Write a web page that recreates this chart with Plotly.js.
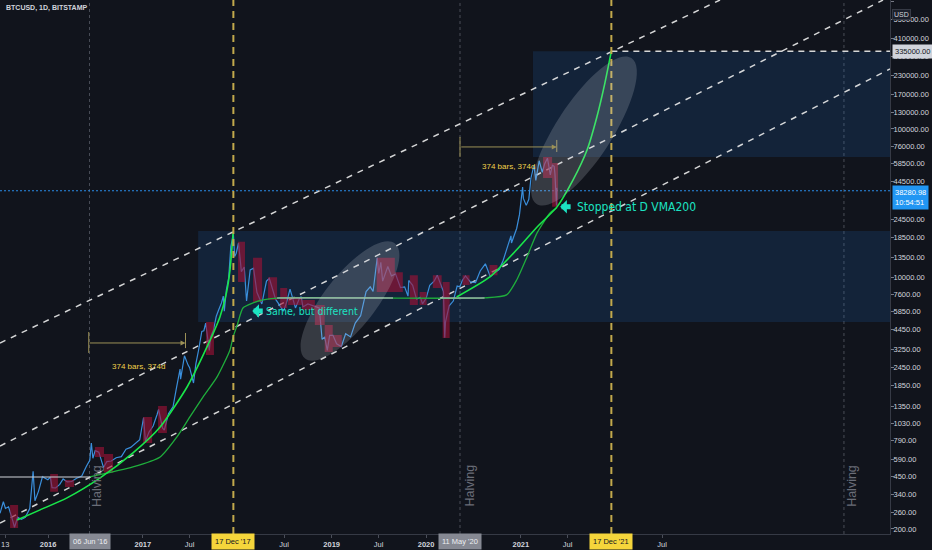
<!DOCTYPE html>
<html><head><meta charset="utf-8">
<script src="https://cdn.plot.ly/plotly-3.0.1.min.js"></script>
<style>html,body{margin:0;padding:0;background:#11141c;}#chart{width:932px;height:550px;}</style>
</head><body><div id="chart"></div>
<script>
// ---- price series (BTCUSD daily) ----
const priceDates = ['2015-06-29','2015-07-12','2015-07-20','2015-08-01','2015-08-18','2015-08-24','2015-09-05','2015-09-20','2015-10-05','2015-10-22','2015-11-04','2015-11-11','2015-11-25','2015-12-10','2015-12-31',
'2016-01-10','2016-01-16','2016-01-30','2016-02-15','2016-02-28','2016-03-15','2016-04-01','2016-04-20','2016-05-10','2016-05-28','2016-06-10','2016-06-16','2016-06-22','2016-07-01','2016-07-15','2016-08-02','2016-08-15','2016-09-01','2016-09-20','2016-10-10','2016-10-28','2016-11-15','2016-12-01','2016-12-20',
'2017-01-04','2017-01-11','2017-01-25','2017-02-10','2017-02-25','2017-03-03','2017-03-18','2017-03-25','2017-04-10','2017-04-28','2017-05-10','2017-05-25','2017-05-27','2017-06-11','2017-06-25','2017-07-01','2017-07-16','2017-07-25','2017-08-05','2017-08-17','2017-08-25','2017-09-01','2017-09-15','2017-09-20','2017-10-01','2017-10-12','2017-10-21','2017-11-01','2017-11-08','2017-11-12','2017-11-20','2017-11-29','2017-12-07','2017-12-17','2017-12-22','2017-12-28',
'2018-01-06','2018-01-17','2018-01-28','2018-02-06','2018-02-20','2018-03-05','2018-03-18','2018-04-06','2018-04-24','2018-05-05','2018-05-29','2018-06-15','2018-06-29','2018-07-10','2018-07-24','2018-08-14','2018-08-28','2018-09-05','2018-09-12','2018-10-01','2018-10-15','2018-11-01','2018-11-14','2018-11-25','2018-12-05','2018-12-15','2018-12-24',
'2019-01-06','2019-01-20','2019-02-07','2019-02-24','2019-03-15','2019-04-02','2019-04-23','2019-05-14','2019-05-30','2019-06-10','2019-06-26','2019-07-02','2019-07-10','2019-07-17','2019-08-06','2019-08-20','2019-09-05','2019-09-24','2019-10-10','2019-10-23','2019-10-26','2019-11-10','2019-11-25','2019-12-10','2019-12-18',
'2020-01-01','2020-01-15','2020-02-01','2020-02-13','2020-02-27','2020-03-08','2020-03-13','2020-03-16','2020-03-30','2020-04-15','2020-04-30','2020-05-10','2020-05-20','2020-06-01','2020-06-20','2020-07-10','2020-07-28','2020-08-17','2020-09-05','2020-09-25','2020-10-10','2020-10-25','2020-11-07','2020-11-24','2020-11-26','2020-12-16','2020-12-27',
'2021-01-02','2021-01-08','2021-01-11','2021-01-22','2021-02-01','2021-02-09','2021-02-21','2021-02-28','2021-03-13','2021-03-25','2021-04-03','2021-04-14','2021-04-25','2021-05-03','2021-05-10','2021-05-13','2021-05-19','2021-05-20','2021-05-21'];
const priceValues = [255,305,275,282,225,205,240,232,240,275,490,310,360,450,430,
448,380,378,400,435,415,418,440,455,530,580,760,600,675,660,520,570,575,605,615,690,710,750,800,
1130,780,900,990,1180,1280,960,930,1200,1340,1750,2400,2050,2950,2550,2450,1930,2600,3250,4300,4350,4900,3200,3950,4400,5450,6000,6700,7450,5900,8200,9900,16000,19500,13800,14500,
17000,10900,11700,6900,11200,11500,7900,6600,9400,9800,7100,6400,5900,6700,8300,6200,7100,7400,6300,6600,6450,6350,6200,3800,3950,3200,4050,
4050,3550,3400,4150,3950,4900,5500,8000,8600,8000,13500,10600,12600,9400,11800,10200,10500,8500,8600,7450,9500,8800,7100,7300,6600,
7200,8800,9400,10300,8800,8000,3900,5000,6400,6900,8700,8600,9500,10200,9300,9200,11000,12300,10100,10700,11300,13000,15500,19000,17000,21300,26500,
32000,40500,34000,30500,33500,46500,57000,45000,61000,51000,58000,63500,49000,57000,56000,49500,30500,40000,38280.98];
const lastPrice = 38280.98;

// ---- red (down-leg) highlight boxes ----
const redStart = ['2015-08-07','2016-01-09','2016-03-06','2016-06-30','2016-08-04','2017-01-02','2017-03-01','2017-09-02','2018-01-04','2018-03-03','2018-04-30','2018-06-16','2018-07-16','2018-09-08','2018-10-28','2018-12-05','2019-01-05','2019-06-24','2019-09-02','2019-10-30','2019-12-07','2020-01-27','2020-03-05','2020-05-21','2020-09-02','2021-03-28','2021-05-02'];
const redEnd   = ['2015-09-07','2016-02-08','2016-04-10','2016-08-04','2016-09-08','2017-02-06','2017-04-04','2017-10-03','2018-01-31','2018-04-07','2018-06-04','2018-07-13','2018-09-08','2018-10-28','2018-12-05','2019-01-05','2019-02-09','2019-09-02','2019-10-03','2019-11-30','2020-01-03','2020-03-01','2020-04-01','2020-06-17','2020-10-03','2021-05-02','2021-05-25'];
const redHigh  = [290,470,428,715,641,1140,1352,4990,17300,13500,10000,8460,7350,7000,6490,4760,4070,13500,10800,10300,7940,10300,9290,10300,12100,64700,59000];
const redLow   = [203,356,384,612,478,760,889,2985,9290,6800,7000,6200,6490,6010,4760,3130,3380,7940,7940,6490,6490,8460,3890,8860,10300,46700,29800];

// ---- blue zones ----
const blueStart = ['2017-08-03','2021-02-17'];
const blueEnd   = ['2024-11-28','2024-11-28'];
const blueLow   = [4990, 64700];
const blueHigh  = [20500, 335000];

// ---- dashed channel lines (end points) ----
const chanStartDate = ['2015-06-29','2015-06-29','2015-06-29'];
const chanStartVal  = [3597, 726, 219];
const chanEndDate   = ['2023-02-10','2024-11-01','2024-11-28'];
const chanEndVal    = [741000, 741000, 254000];

// ---- bright green curve (two legs) ----
const curveADates = ['2015-09-03','2015-12-01','2016-03-14','2016-07-20','2016-11-24','2017-03-09','2017-06-21','2017-09-06','2017-10-26','2017-11-20','2017-12-04','2017-12-16',null,
'2020-04-28','2020-09-02','2020-12-16','2021-03-05','2021-05-21','2021-07-22','2021-09-14','2021-10-22','2021-11-22','2021-12-17'];
const curveAValues = [230,269,324,442,652,975,1815,3381,5387,7800,11200,19900,null,
7350,10000,15300,21800,29800,45300,72100,120500,204000,335000];

// ---- darker green VMA curve ----
const curveBDates = ['2016-06-11','2016-11-24','2017-03-09','2017-05-13','2017-07-02','2017-08-22','2017-10-15','2017-12-04','2017-12-16','2018-01-01','2018-01-23','2018-03-03','2018-04-11','2018-06-16','2020-08-14','2020-11-07','2020-12-16','2021-01-25','2021-03-05','2021-04-24','2021-05-21'];
const curveBValues = [449,524,612,836,1140,1555,2122,3228,3948,4756,6196,6700,7016,7244,7244,7590,9570,13700,19900,27100,29500];

// ---- grey horizontal levels ----
const grayStart = ['2015-06-29','2018-06-04','2020-02-24'];
const grayEnd   = ['2016-06-11','2019-08-26','2020-08-14'];
const grayLevel = [449, 7244, 7244];

// ---- axis ticks ----
const yTickVals = [200,260,340,450,590,790,1030,1350,1850,2450,3250,4450,5850,7600,10000,13500,18500,24500,44500,58500,76000,100000,130000,170000,230000,310000,410000,550000,725000];
const xTickVals = ['2015-07-19','2016-01-01','2017-01-01','2017-07-01','2018-07-01','2019-01-01','2019-07-01','2020-01-01','2021-01-01','2021-07-01','2022-07-01'];
const xTickText = ['13','<b>2016</b>','<b>2017</b>','Jul','Jul','<b>2019</b>','Jul','<b>2020</b>','<b>2021</b>','Jul','Jul'];

// ---- event markers ----
const halvingDates = ['2016-06-09','2020-05-11','2024-06-03'];
const peakDates = ['2017-12-17','2021-12-17'];
const target = 335000;

const L = Math.log10;
const traces = [];
function boxTrace(s,e,lo,hi,color){
  const x=[],y=[];
  for(let i=0;i<s.length;i++){x.push(s[i],e[i],e[i],s[i],s[i],null);y.push(lo[i],lo[i],hi[i],hi[i],lo[i],null);}
  return {type:'scatter',mode:'lines',x,y,fill:'toself',fillcolor:color,line:{width:0},hoverinfo:'skip'};
}
traces.push(boxTrace(blueStart,blueEnd,blueLow,blueHigh,'rgba(33,120,210,0.16)'));
(function(){const x=[],y=[];for(let i=0;i<chanStartDate.length;i++){x.push(chanStartDate[i],chanEndDate[i],null);y.push(chanStartVal[i],chanEndVal[i],null);}
traces.push({type:'scatter',mode:'lines',x,y,line:{color:'rgba(235,235,235,0.9)',width:1.5,dash:'6px,6px'},hoverinfo:'skip'});})();
traces.push({type:'scatter',mode:'lines',x:[peakDates[1],'2024-11-28'],y:[target,target],line:{color:'rgba(235,235,235,0.9)',width:1.5,dash:'6px,5px'}});
traces.push({type:'scatter',mode:'lines',x:['2015-06-29','2024-11-28'],y:[lastPrice,lastPrice],line:{color:'#2a8ce8',width:1,dash:'2px,2px'}});
traces.push({type:'scatter',mode:'lines',x:priceDates,y:priceValues,line:{color:'#3a8fdc',width:1.2}});
traces.push(boxTrace(redStart,redEnd,redLow,redHigh,'rgba(160,18,55,0.62)'));
traces.push({type:'scatter',mode:'lines',x:curveBDates,y:curveBValues,line:{color:'#1fae3c',width:1.3,shape:'spline',smoothing:0.6}});
(function(){const x=[],y=[];for(let i=0;i<grayStart.length;i++){x.push(grayStart[i],grayEnd[i],null);y.push(grayLevel[i],grayLevel[i],null);}
traces.push({type:'scatter',mode:'lines',x,y,line:{color:'rgba(190,192,198,0.75)',width:1.5}});})();
traces.push({type:'scatter',mode:'lines',x:curveADates,y:curveAValues,connectgaps:false,line:{color:'#19e64a',width:1.6,shape:'spline',smoothing:0.6}});
traces.push({type:'scatter',mode:'lines',x:['2016-06-06','2016-06-06',null,'2017-06-15','2017-06-15',null,'2020-05-11','2020-05-11',null,'2021-05-20','2021-05-20'],
  y:[4266,3080,null,4200,3320,null,88300,64700,null,84300,69900],line:{color:'#9c9157',width:1}});

function ellipsePath(cx,cy,a,b,deg){
  const W=890,H=534,t=deg*Math.PI/180,k=0.5523;
  const d=[Math.cos(t),-Math.sin(t)],n=[Math.sin(t),Math.cos(t)];
  const P=(u,v)=>{const x=cx+u*d[0]+v*n[0],y=cy+u*d[1]+v*n[1];return (x/W).toFixed(5)+','+(1-y/H).toFixed(5);};
  return 'M'+P(a,0)+' C'+P(a,k*b)+' '+P(k*a,b)+' '+P(0,b)+' C'+P(-k*a,b)+' '+P(-a,k*b)+' '+P(-a,0)+
    ' C'+P(-a,-k*b)+' '+P(-k*a,-b)+' '+P(0,-b)+' C'+P(k*a,-b)+' '+P(a,-k*b)+' '+P(a,0)+' Z';
}
const shapes = [];
peakDates.forEach(d=>shapes.push({type:'line',xref:'x',yref:'paper',x0:d,x1:d,y0:0,y1:1,line:{color:'#c2a94c',width:2,dash:'7px,5px'},layer:'above'}));
halvingDates.forEach(d=>shapes.push({type:'line',xref:'x',yref:'paper',x0:d,x1:d,y0:0,y1:1,line:{color:'rgba(120,123,134,0.55)',width:1,dash:'dot'},layer:'below'}));
shapes.push({type:'path',xref:'paper',yref:'paper',path:ellipsePath(350,301,73,26,52),fillcolor:'rgba(205,210,220,0.2)',line:{width:0},layer:'above'});
shapes.push({type:'path',xref:'paper',yref:'paper',path:ellipsePath(584,131,87,28,57),fillcolor:'rgba(205,210,220,0.2)',line:{width:0},layer:'above'});

const teal='#1ce3c2', narrow='Liberation Sans Narrow, DejaVu Sans Condensed, Liberation Sans, sans-serif';
const ann = [
 {xref:'paper',yref:'paper',x:0.004,y:0.985,xanchor:'left',yanchor:'middle',text:'<b>BTCUSD, 1D, BITSTAMP</b>',showarrow:false,font:{size:7,color:'#d1d4dc'}},
 {x:'2016-12-14',y:L(2477),text:'374 bars, 374d',showarrow:false,font:{size:8,color:'#f2d34b'}},
 {x:'2020-11-13',y:L(55400),text:'374 bars, 374d',showarrow:false,font:{size:8,color:'#f2d34b'}},
 {x:'2017-06-15',y:L(3597),ax:-97,ay:0,text:'',showarrow:true,arrowhead:2,arrowsize:1,arrowwidth:1,arrowcolor:'#9c9157'},
 {x:'2021-05-20',y:L(75600),ax:-97,ay:0,text:'',showarrow:true,arrowhead:2,arrowsize:1,arrowwidth:1,arrowcolor:'#9c9157'},
 {x:'2018-02-28',y:L(5916),ax:12,ay:0,text:'',showarrow:true,arrowhead:1,arrowsize:0.45,arrowwidth:5,arrowcolor:teal},
 {x:'2018-04-16',y:L(5916),xanchor:'left',text:'Same, but different',showarrow:false,font:{size:10.5,color:teal,family:narrow}},
 {x:'2021-06-02',y:L(29800),ax:12,ay:0,text:'',showarrow:true,arrowhead:1,arrowsize:0.45,arrowwidth:5,arrowcolor:teal},
 {x:'2021-07-30',y:L(29800),xanchor:'left',text:'Stopped at D VMA200',showarrow:false,font:{size:12,color:teal,family:narrow}},
 {x:'2016-07-08',yref:'paper',y:0.047,textangle:-90,text:'Halving',showarrow:false,font:{size:12.5,color:'#6a6d78'}},
 {x:'2020-06-17',yref:'paper',y:0.047,textangle:-90,text:'Halving',showarrow:false,font:{size:12.5,color:'#6a6d78'}},
 {x:'2024-07-04',yref:'paper',y:0.047,textangle:-90,text:'Halving',showarrow:false,font:{size:12.5,color:'#6a6d78'}},
 {x:'2016-06-09',yref:'paper',y:-0.0135,yanchor:'middle',text:'06 Jun \'16',showarrow:false,bgcolor:'#868993',borderpad:3,font:{size:7.5,color:'#eceef2'}},
 {x:'2017-12-17',yref:'paper',y:-0.0135,yanchor:'middle',text:'17 Dec \'17',showarrow:false,bgcolor:'#f5d53b',borderpad:3,font:{size:7.5,color:'#131722'}},
 {x:'2020-05-11',yref:'paper',y:-0.0135,yanchor:'middle',text:'11 May \'20',showarrow:false,bgcolor:'#868993',borderpad:3,font:{size:7.5,color:'#eceef2'}},
 {x:'2021-12-17',yref:'paper',y:-0.0135,yanchor:'middle',text:'17 Dec \'21',showarrow:false,bgcolor:'#f5d53b',borderpad:3,font:{size:7.5,color:'#131722'}},
 {xref:'paper',x:1.002,xanchor:'left',y:L(target),text:'335000.00',showarrow:false,bgcolor:'#d1d4dc',borderpad:2,font:{size:7.5,color:'#131722'}},
 {xref:'paper',x:1.002,xanchor:'left',y:L(lastPrice),yanchor:'top',yshift:6,text:lastPrice.toFixed(2)+'<br>10:54:51',showarrow:false,bgcolor:'#2196f3',borderpad:2,align:'left',font:{size:7.5,color:'#ffffff'}},
 {xref:'paper',yref:'paper',x:1.0236,y:0.983,text:'USD',showarrow:false,bgcolor:'#1c202b',bordercolor:'#363a45',borderwidth:1,borderpad:1,font:{size:7,color:'#d1d4dc'}}
];

const layout = {
  width:932,height:550,margin:{l:0,r:42,t:0,b:16,pad:0},
  paper_bgcolor:'#11141c',plot_bgcolor:'#11141c',showlegend:false,
  font:{family:'Liberation Sans, Arial, sans-serif',color:'#d1d4dc',size:8},
  xaxis:{type:'date',range:['2015-06-29','2024-11-28'],tickvals:xTickVals,ticktext:xTickText,showgrid:false,zeroline:false,
    showline:true,linecolor:'#363a45',ticks:'outside',ticklen:3,tickcolor:'#4a4e59',tickfont:{size:7.5,color:'#d1d4dc'}},
  yaxis:{type:'log',side:'right',range:[2.267,5.870],tickvals:yTickVals,ticktext:yTickVals.map(v=>v.toFixed(2)),showgrid:false,zeroline:false,
    showline:true,linecolor:'#363a45',ticks:'outside',ticklen:3,ticklabelstandoff:-2,tickcolor:'#787b86',tickfont:{size:7.5,color:'#d1d4dc'}},
  shapes:shapes,annotations:ann
};
Plotly.newPlot('chart',traces,layout,{staticPlot:true,displayModeBar:false});
</script></body></html>
